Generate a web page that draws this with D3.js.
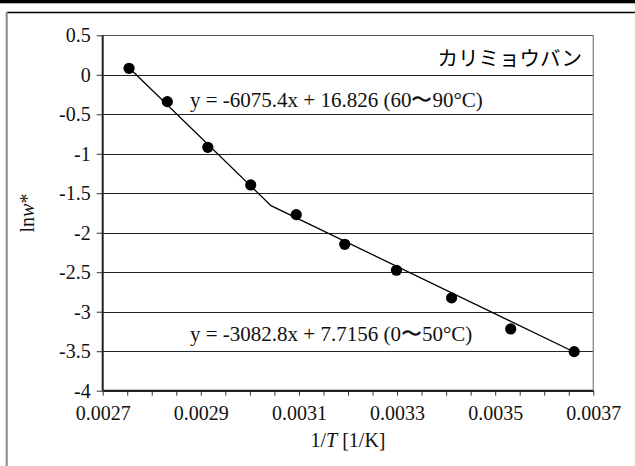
<!DOCTYPE html>
<html>
<head>
<meta charset="utf-8">
<script src="https://cdn.jsdelivr.net/npm/d3@7"></script>
<style>
  body { margin: 0; background: #fff; }
  svg { display: block; }
  .serif { font-family: "Liberation Serif", "Times New Roman", serif; }
</style>
</head>
<body>
<svg id="chart" width="635" height="466"></svg>
<script>
// measured points: 1/T [1/K] vs ln w*
var invT = [0.0027537, 0.0028317, 0.0029142, 0.0030017, 0.0030945,
            0.0031934, 0.0032987, 0.0034112, 0.0035317, 0.0036610];
var lnW = [0.082, -0.34, -0.918, -1.395, -1.771,
           -2.146, -2.475, -2.825, -3.218, -3.505];

// two trend lines joined at their crossing
var fitX = [0.0027537, 0.003043, 0.003661];
var fitY = [0.088, -1.657, -3.51];

var yTicks = [0.5, 0, -0.5, -1, -1.5, -2, -2.5, -3, -3.5, -4];
var xLabels = ["0.0027", "0.0029", "0.0031", "0.0033", "0.0035", "0.0037"];

var title = "カリミョウバン";
var eqHigh = "y = -6075.4x + 16.826 (60〜90°C)";
var eqLow = "y = -3082.8x + 7.7156 (0〜50°C)";

var svg = d3.select('#chart');

var pLeft = 102.7, pRight = 593.3, pTop = 35.3, pBottom = 390.7;
var tickFont = '20px';

var x = d3.scaleLinear().domain([0.0027, 0.0037]).range([pLeft, pRight]);
var y = d3.scaleLinear().domain([-4, 0.5]).range([pBottom, pTop]);

// outer frame
svg.append('rect').attr('x', 0).attr('y', 0).attr('width', 635).attr('height', 3.3).attr('fill', '#000');
svg.append('line').attr('x1', 7).attr('x2', 635).attr('y1', 12.5).attr('y2', 12.5)
  .style('stroke', '#000').style('stroke-width', 1.3);
svg.append('line').attr('x1', 6.7).attr('x2', 6.7).attr('y1', 12).attr('y2', 466)
  .style('stroke', '#888').style('stroke-width', 2);

// grid lines
svg.append('g').selectAll('line').data(yTicks).enter().append('line')
  .attr('x1', pLeft).attr('x2', pRight)
  .attr('y1', function (d) { return Math.round(y(d)) + 0.5; })
  .attr('y2', function (d) { return Math.round(y(d)) + 0.5; })
  .style('stroke', function (d) { return d === 0.5 ? '#555' : '#222'; })
  .style('stroke-width', 1);

// right border
svg.append('line').attr('x1', pRight).attr('x2', pRight).attr('y1', pTop).attr('y2', pBottom)
  .style('stroke', '#888').style('stroke-width', 1.3);

// y axis
var yAxis = d3.axisLeft(y).tickValues(yTicks).tickSize(6).tickPadding(6)
  .tickFormat(function (d) { return String(d); });
var gy = svg.append('g').attr('class', 'serif').attr('transform', 'translate(' + pLeft + ',0)').call(yAxis);
gy.select('.domain').remove();
gy.append('line').attr('x1', 0).attr('x2', 0).attr('y1', pTop).attr('y2', pBottom)
  .style('stroke', '#222').style('stroke-width', 2);
gy.selectAll('.tick line').style('stroke', '#333');
gy.selectAll('text').style('font-size', tickFont).style('fill', '#111');

// x axis, minor ticks every 0.00005, labels every 0.0002
var xTickVals = d3.range(0, 21).map(function (i) { return 0.0027 + i * 0.00005; });
var xAxis = d3.axisBottom(x).tickValues(xTickVals).tickSize(5).tickPadding(10)
  .tickFormat(function (d, i) { return i % 4 === 0 ? xLabels[i / 4] : ''; });
var gx = svg.append('g').attr('class', 'serif').attr('transform', 'translate(0,' + pBottom + ')').call(xAxis);
gx.select('.domain').attr('d', 'M' + pLeft + ',0H' + pRight).style('stroke', '#222').style('stroke-width', 2);
gx.selectAll('.tick line').style('stroke', '#333');
gx.selectAll('text').style('font-size', tickFont).style('fill', '#111');

// axis titles
var xt = svg.append('text').attr('class', 'serif').attr('x', (pLeft + pRight) / 2).attr('y', 447)
  .attr('text-anchor', 'middle').style('font-size', tickFont).style('fill', '#111');
xt.append('tspan').text('1/');
xt.append('tspan').style('font-style', 'italic').text('T');
xt.append('tspan').text(' [1/K]');

var yt = svg.append('text').attr('class', 'serif')
  .attr('transform', 'translate(34,' + ((pTop + pBottom) / 2) + ') rotate(-90)')
  .attr('text-anchor', 'middle').style('font-size', tickFont).style('fill', '#111');
yt.append('tspan').text('ln');
yt.append('tspan').style('font-style', 'italic').text('w');
yt.append('tspan').text('*');

// trend line
var line = d3.line().x(function (d) { return x(d[0]); }).y(function (d) { return y(d[1]); });
svg.append('path').datum(d3.zip(fitX, fitY)).attr('d', line)
  .style('fill', 'none').style('stroke', '#000').style('stroke-width', 1.3);

// points
svg.append('g').selectAll('circle').data(d3.zip(invT, lnW)).enter().append('circle')
  .attr('cx', function (d) { return x(d[0]); })
  .attr('cy', function (d) { return y(d[1]); })
  .attr('r', 5.6).style('fill', '#000');

// annotations
svg.append('text').attr('x', 582).attr('y', 66).attr('text-anchor', 'end')
  .style('font-family', '"Noto Sans CJK JP", sans-serif').style('font-size', '20.5px')
  .style('fill', '#000')
  .text(title);
svg.append('text').attr('class', 'serif').attr('x', 190).attr('y', 107)
  .style('font-size', '21px').style('fill', '#111').text(eqHigh);
svg.append('text').attr('class', 'serif').attr('x', 190).attr('y', 341)
  .style('font-size', '21px').style('fill', '#111').text(eqLow);
</script>
</body>
</html>
